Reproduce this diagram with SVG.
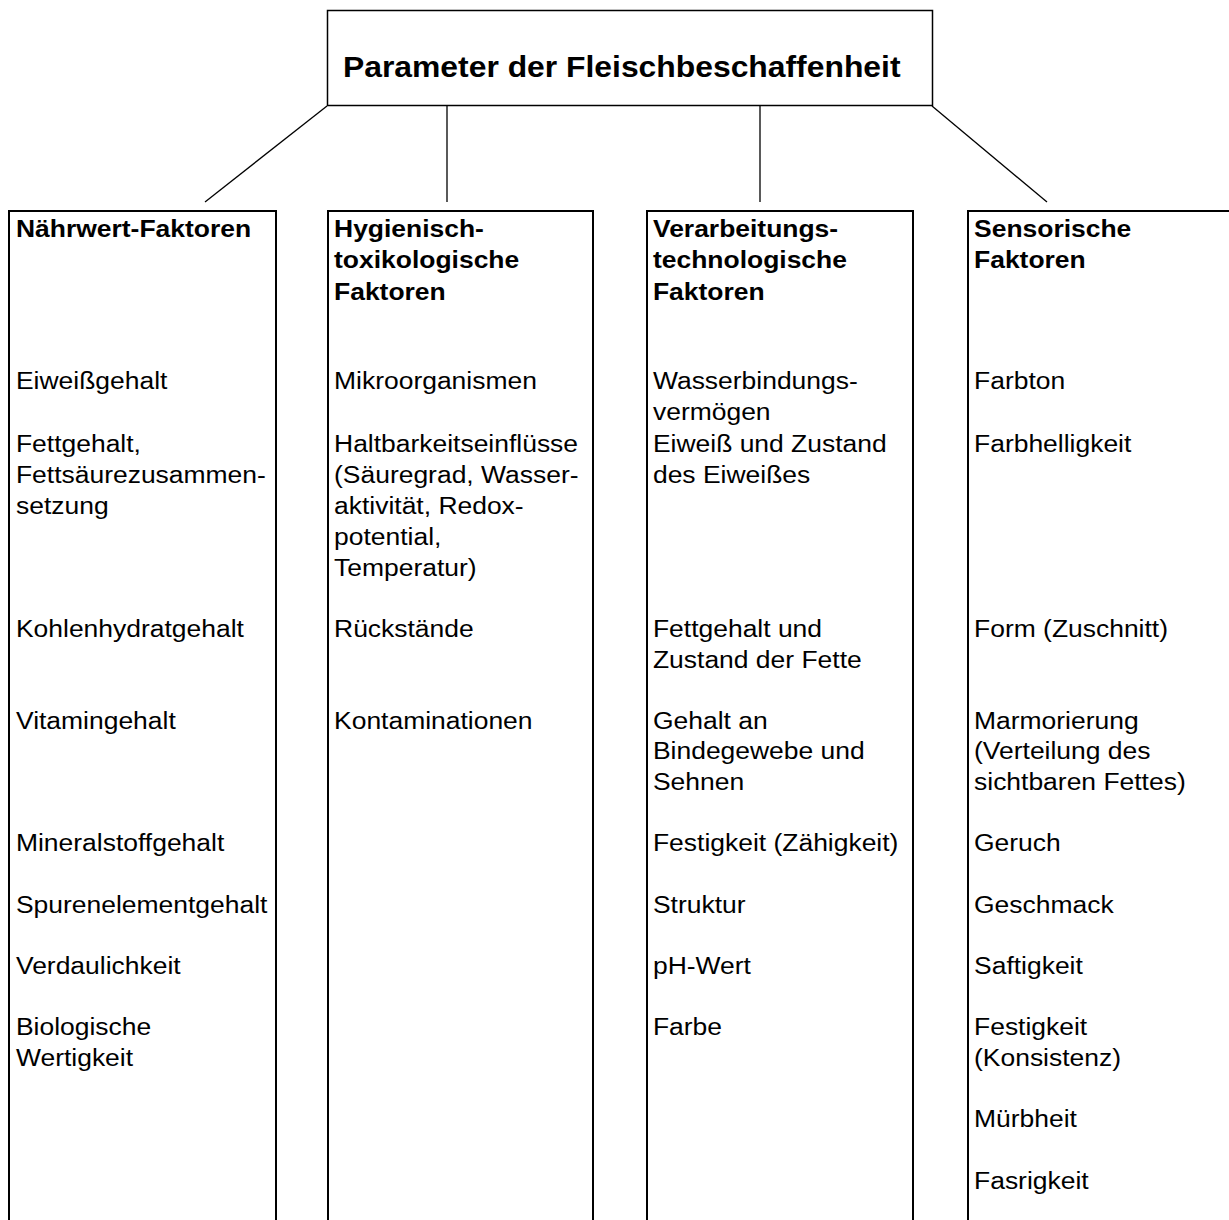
<svg xmlns="http://www.w3.org/2000/svg" width="1229" height="1220" viewBox="0 0 1229 1220">
<style>
.bg{fill:#fff}
.box{fill:#fff;stroke:#000;stroke-width:1.5}
.col{fill:none;stroke:#000;stroke-width:2}
.con{stroke:#000;stroke-width:1.3;fill:none}
text{font-family:"Liberation Sans",Arial,sans-serif;fill:#000}
.t{font-size:24.5px}
.h{font-size:24.5px;font-weight:bold}
.title{font-size:29.5px;font-weight:bold}
</style>
<rect class="bg" x="0" y="0" width="1229" height="1220"/>
<g id="connectors">
<line class="con" x1="327" y1="106" x2="205" y2="202"/>
<line class="con" x1="447" y1="106" x2="447" y2="202"/>
<line class="con" x1="760" y1="106" x2="760" y2="202"/>
<line class="con" x1="932" y1="106" x2="1047" y2="202"/>
</g>
<g id="node-root">
<rect class="box" x="327.5" y="10.5" width="605" height="95"/>
<g transform="scale(1.08 1)"><text class="title" x="317.6" y="77.5">Parameter der Fleischbeschaffenheit</text></g>
</g>
<g id="node-naehrwert">
<path class="col" d="M9,1220 V211 H276 V1220"/>
<g transform="scale(1.08 1)">
<text class="h" x="14.8" y="237">Nährwert-Faktoren</text>
<text class="t" x="14.8" y="389">Eiweißgehalt</text>
<text class="t" x="14.8" y="452">Fettgehalt,<tspan x="14.8" dy="31">Fettsäurezusammen-</tspan><tspan x="14.8" dy="31">setzung</tspan></text>
<text class="t" x="14.8" y="637">Kohlenhydratgehalt</text>
<text class="t" x="14.8" y="729">Vitamingehalt</text>
<text class="t" x="14.8" y="851">Mineralstoffgehalt</text>
<text class="t" x="14.8" y="913">Spurenelementgehalt</text>
<text class="t" x="14.8" y="974">Verdaulichkeit</text>
<text class="t" x="14.8" y="1035">Biologische<tspan x="14.8" dy="31">Wertigkeit</tspan></text>
</g>
</g>
<g id="node-hygiene">
<path class="col" d="M328,1220 V211 H593 V1220"/>
<g transform="scale(1.08 1)">
<text class="h" x="309.3" y="237">Hygienisch-<tspan x="309.3" dy="31.5">toxikologische</tspan><tspan x="309.3" dy="31.5">Faktoren</tspan></text>
<text class="t" x="309.3" y="389">Mikroorganismen</text>
<text class="t" x="309.3" y="452">Haltbarkeitseinflüsse<tspan x="309.3" dy="31">(Säuregrad, Wasser-</tspan><tspan x="309.3" dy="31">aktivität, Redox-</tspan><tspan x="309.3" dy="31">potential,</tspan><tspan x="309.3" dy="31">Temperatur)</tspan></text>
<text class="t" x="309.3" y="637">Rückstände</text>
<text class="t" x="309.3" y="729">Kontaminationen</text>
</g>
</g>
<g id="node-verarbeitung">
<path class="col" d="M647,1220 V211 H913 V1220"/>
<g transform="scale(1.08 1)">
<text class="h" x="604.6" y="237">Verarbeitungs-<tspan x="604.6" dy="31.5">technologische</tspan><tspan x="604.6" dy="31.5">Faktoren</tspan></text>
<text class="t" x="604.6" y="389">Wasserbindungs-<tspan x="604.6" dy="31">vermögen</tspan></text>
<text class="t" x="604.6" y="452">Eiweiß und Zustand<tspan x="604.6" dy="31">des Eiweißes</tspan></text>
<text class="t" x="604.6" y="637">Fettgehalt und<tspan x="604.6" dy="31">Zustand der Fette</tspan></text>
<text class="t" x="604.6" y="729">Gehalt an<tspan x="604.6" dy="30.5">Bindegewebe und</tspan><tspan x="604.6" dy="30.5">Sehnen</tspan></text>
<text class="t" x="604.6" y="851">Festigkeit (Zähigkeit)</text>
<text class="t" x="604.6" y="913">Struktur</text>
<text class="t" x="604.6" y="974">pH-Wert</text>
<text class="t" x="604.6" y="1035">Farbe</text>
</g>
</g>
<g id="node-sensorik">
<path class="col" d="M968,1220 V211 H1229"/>
<g transform="scale(1.08 1)">
<text class="h" x="901.9" y="237">Sensorische<tspan x="901.9" dy="31.5">Faktoren</tspan></text>
<text class="t" x="901.9" y="389">Farbton</text>
<text class="t" x="901.9" y="452">Farbhelligkeit</text>
<text class="t" x="901.9" y="637">Form (Zuschnitt)</text>
<text class="t" x="901.9" y="729">Marmorierung<tspan x="901.9" dy="30.5">(Verteilung des</tspan><tspan x="901.9" dy="30.5">sichtbaren Fettes)</tspan></text>
<text class="t" x="901.9" y="851">Geruch</text>
<text class="t" x="901.9" y="913">Geschmack</text>
<text class="t" x="901.9" y="974">Saftigkeit</text>
<text class="t" x="901.9" y="1035">Festigkeit<tspan x="901.9" dy="31">(Konsistenz)</tspan></text>
<text class="t" x="901.9" y="1127">Mürbheit</text>
<text class="t" x="901.9" y="1189">Fasrigkeit</text>
</g>
</g>
</svg>
